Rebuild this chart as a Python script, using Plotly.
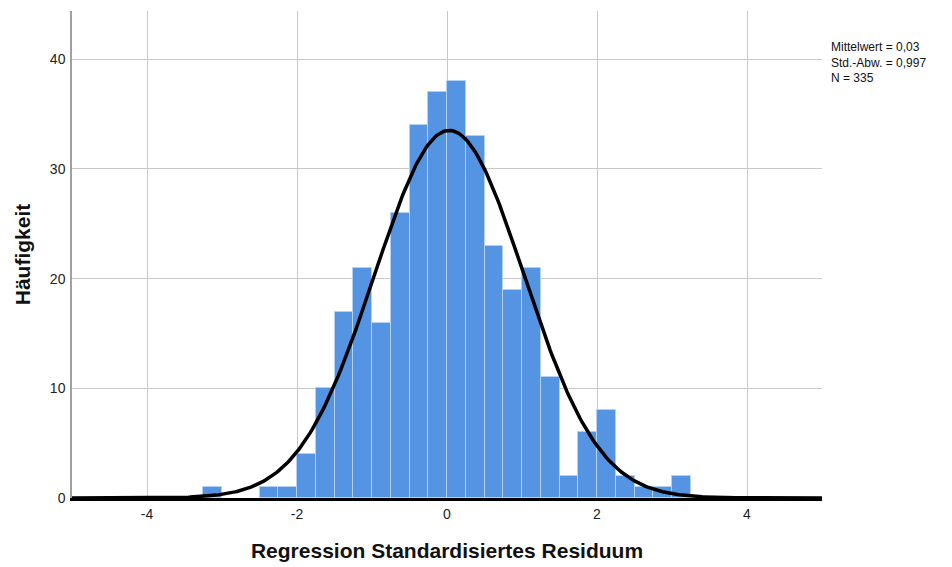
import numpy as np
import plotly.graph_objects as go

# Histogram data (bin width 0.25)
bin_width = 0.25
bin_starts = [-3.25, -2.5, -2.25, -2.0, -1.75, -1.5, -1.25, -1.0, -0.75, -0.5, -0.25,
              0.0, 0.25, 0.5, 0.75, 1.0, 1.25, 1.5, 1.75, 2.0, 2.25, 2.5, 2.75, 3.0]
counts = [1, 1, 1, 4, 10, 17, 21, 16, 26, 34, 37,
          38, 33, 23, 19, 21, 11, 2, 6, 8, 2, 1, 1, 2]

# Summary statistics shown in the chart
mean_val = 0.03
std_val = 0.997
n_val = 335

x_ticks = [-4, -2, 0, 2, 4]
y_ticks = [0, 10, 20, 30, 40]

centers = [s + bin_width / 2 for s in bin_starts]

# Fitted normal curve (from the chart's stated mean, sd and N)
xc = np.linspace(-5, 5, 401)
yc = n_val * bin_width * np.exp(-0.5 * ((xc - mean_val) / std_val) ** 2) / (std_val * np.sqrt(2 * np.pi))

fig = go.Figure()
fig.add_trace(go.Bar(
    x=centers, y=counts, width=[bin_width] * len(centers),
    marker=dict(color="#5594e2", line=dict(color="#b4d0f2", width=1)),
    showlegend=False, hoverinfo="x+y"))
fig.add_trace(go.Scatter(
    x=xc, y=yc, mode="lines", line=dict(color="black", width=3.5),
    showlegend=False, hoverinfo="skip"))

fig.update_layout(
    width=952, height=567,
    margin=dict(l=64, r=138, t=3, b=77),
    paper_bgcolor="white", plot_bgcolor="white",
    font=dict(family="Liberation Sans, Arial, sans-serif", size=14, color="#222"),
    bargap=0,
    xaxis=dict(
        range=[-5, 5], tickvals=x_ticks, ticktext=[str(v) for v in x_ticks],
        showgrid=True, gridcolor="#c8c8c8", gridwidth=1.2,
        zeroline=False, showline=True, linecolor="black", linewidth=2.5,
        ticks="outside", ticklen=1, tickcolor="rgba(0,0,0,0)",
        tickfont=dict(size=14),
        title=dict(text="<b>Regression Standardisiertes Residuum</b>",
                   font=dict(size=21, color="#111"), standoff=23),
    ),
    yaxis=dict(
        range=[0, 44.4], tickvals=y_ticks, ticktext=[str(v) for v in y_ticks],
        showgrid=True, gridcolor="#c8c8c8", gridwidth=1.2,
        zeroline=False, showline=True, linecolor="#a0a0a0", linewidth=1.5,
        ticks="outside", ticklen=2, tickcolor="rgba(0,0,0,0)",
        tickfont=dict(size=14),
        title=dict(text="<b>Häufigkeit</b>", font=dict(size=21, color="#111"), standoff=14),
    ),
    annotations=[dict(
        xref="paper", yref="paper", x=1.009, y=0.945, xanchor="left", yanchor="top",
        align="left", showarrow=False,
        text=("Mittelwert = 0,03<br>Std.-Abw. = 0,997<br>N = 335"),
        font=dict(size=12, color="#111"),
    )],
)

fig.write_html("out.html")
